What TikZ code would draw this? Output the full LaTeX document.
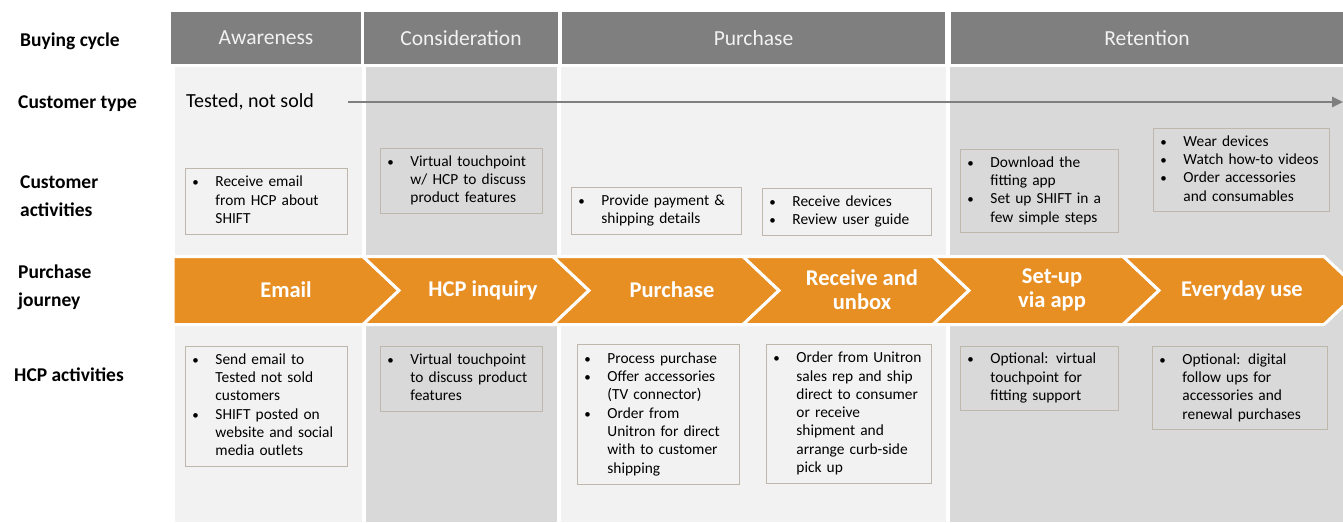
\documentclass[tikz,border=0pt]{standalone}
\usepackage{fontspec}
\setmainfont{Carlito}
\usetikzlibrary{arrows.meta}
\definecolor{hdr}{RGB}{127,127,127}
\definecolor{hdrtxt}{RGB}{242,242,242}
\definecolor{lightbg}{RGB}{242,242,242}
\definecolor{darkbg}{RGB}{217,217,217}
\definecolor{orng}{RGB}{232,143,36}
\definecolor{boxln}{RGB}{191,182,172}
\definecolor{arrgray}{RGB}{127,127,127}
\newcommand\bp[1]{\begin{tabular}{@{}p{21pt}@{}l@{}}#1\end{tabular}}
\newcommand\bu{\hspace{-2pt}{\fontsize{13}{13}\selectfont •}}
\tikzset{
  hdrbox/.style={fill=hdr, text=hdrtxt, inner sep=0pt, minimum height=52pt, font=\fontsize{21.5}{24}\selectfont},
  rowlabel/.style={anchor=west, align=left, inner sep=0pt, font=\fontsize{19.5}{28}\selectfont\bfseries},
  actbox/.style={draw=boxln, line width=0.9pt, inner xsep=9pt, inner ysep=0pt, anchor=north west, font=\fontsize{15.4}{18.3}\selectfont},
  chevtxt/.style={text=white, align=center, inner sep=0pt, font=\fontsize{22.5}{24}\selectfont\bfseries},
  chev/.style={fill=orng, draw=white, line width=3pt, line join=miter}
}
\begin{document}
\begin{tikzpicture}[x=1pt,y=-1pt]
\useasboundingbox (0,0) rectangle (1343,522);
\clip (0,0) rectangle (1343,522);
% column backgrounds
\fill[lightbg] (175,67) rectangle (362,522);
\fill[darkbg] (366,67) rectangle (557,522);
\fill[lightbg] (561,67) rectangle (946,522);
\fill[darkbg] (950,67) rectangle (1343,522);
% header bars
\node[hdrbox, minimum width=190pt] (hA) at (266,38) {Awareness};
\node[hdrbox, minimum width=194pt] (hC) at (461,38) {Consideration};
\node[hdrbox, minimum width=383pt] (hP) at (753.5,38) {Purchase};
\node[hdrbox, minimum width=392pt] (hR) at (1147,38) {Retention};
% row labels
\node[rowlabel] (lBuy) at (20,41) {Buying cycle};
\node[rowlabel] (lType) at (18,104) {Customer type};
\node[rowlabel] (lAct) at (20,196) {Customer\\activities};
\node[rowlabel] (lJour) at (18,287) {Purchase\\journey};
\node[rowlabel] (lHCP) at (14,375) {HCP activities};
% customer type
\node[anchor=west, inner sep=0pt, font=\fontsize{20}{22}\selectfont] (tested) at (186,102) {Tested, not sold};
\coordinate (arrend) at (1343,102);
\draw[arrgray, line width=2.6pt, -{Triangle[length=11pt,width=10pt]}, shorten <=34pt] (tested.east) -- (arrend);
% chevrons
\path[chev] (173,256.5) -- (363,256.5) -- (399,290.5) -- (363,324.5) -- (173,324.5) -- cycle;
\foreach \a/\b in {363/553,553/743,743/933,933/1123,1123/1324}{
  \path[chev] (\a,256.5) -- (\b,256.5) -- (\b+36,290.5) -- (\b,324.5) -- (\a,324.5) -- (\a+36,290.5) -- cycle;
}
\node[chevtxt] (jEmail) at (286,290) {Email};
\node[chevtxt] (jHCP) at (483,290) {HCP inquiry};
\node[chevtxt] (jPur) at (672,290) {Purchase};
\node[chevtxt] (jRec) at (862,290) {Receive and\\unbox};
\node[chevtxt] (jSet) at (1052,290) {Set-up\\via app};
\node[chevtxt] (jEve) at (1242,290) {Everyday use};
% customer activity boxes
\node[actbox, text width=144pt, minimum height=66pt] (c1) at (185,168) {\bp{\bu&Receive email\\&from HCP about\\&SHIFT}};
\node[actbox, text width=144pt, minimum height=65pt] (c2) at (380,148) {\bp{\bu&Virtual touchpoint\\&w/ HCP to discuss\\&product features}};
\node[actbox, text width=152pt, minimum height=47pt] (c3) at (571,187) {\bp{\bu&Provide payment \&\\&shipping details}};
\node[actbox, text width=151pt, minimum height=47pt] (c4) at (762,188) {\bp{\bu&Receive devices\\\bu&Review user guide}};
\node[actbox, text width=140pt, minimum height=83pt] (c5) at (960,149) {\bp{\bu&Download the\\&fitting app\\\bu&Set up SHIFT in a\\&few simple steps}};
\node[actbox, text width=158pt, minimum height=83pt] (c6) at (1153,128) {\bp{\bu&Wear devices\\\bu&Watch how-to videos\\\bu&Order accessories\\&and consumables}};
% HCP activity boxes
\node[actbox, text width=144pt, minimum height=120pt] (h1) at (185,346) {\bp{\bu&Send email to\\&Tested not sold\\&customers\\\bu&SHIFT posted on\\&website and social\\&media outlets}};
\node[actbox, text width=144pt, minimum height=65pt] (h2) at (380,346) {\bp{\bu&Virtual touchpoint\\&to discuss product\\&features}};
\node[actbox, text width=144pt, minimum height=140pt] (h3) at (577,344) {\bp{\bu&Process purchase\\\bu&Offer accessories\\&(TV connector)\\\bu&Order from\\&Unitron for direct\\&with to customer\\&shipping}};
\node[actbox, text width=147pt, minimum height=139pt] (h4) at (766,344) {\bp{\bu&Order from Unitron\\&sales rep and ship\\&direct to consumer\\&or receive\\&shipment and\\&arrange curb-side\\&pick up}};
\node[actbox, text width=140pt, minimum height=64pt] (h5) at (960,346) {\bp{\bu&Optional: virtual\\&touchpoint for\\&fitting support}};
\node[actbox, text width=157pt, minimum height=83pt] (h6) at (1152,346) {\bp{\bu&Optional: digital\\&follow ups for\\&accessories and\\&renewal purchases}};
\end{tikzpicture}
\end{document}
